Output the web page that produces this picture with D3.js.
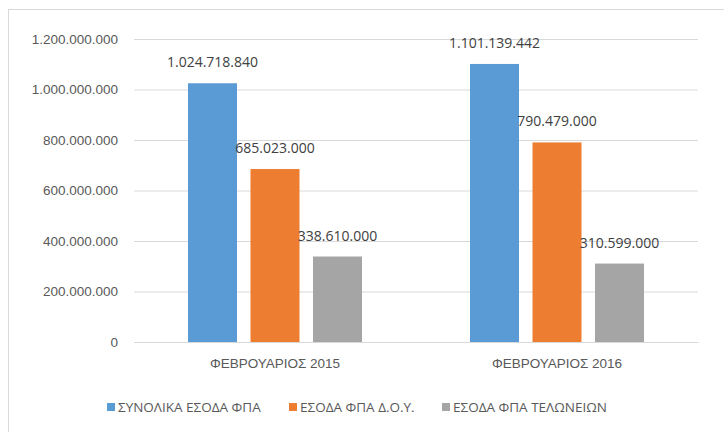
<!DOCTYPE html>
<html>
<head>
<meta charset="utf-8">
<script src="https://cdn.jsdelivr.net/npm/d3@7"></script>
<style>
  body { margin: 0; background: #fff; }
  svg { display: block; font-family: "Open Sans", "Liberation Sans", sans-serif; }
</style>
</head>
<body>
<div id="chart"></div>
<script>
const categories = ["ΦΕΒΡΟΥΑΡΙΟΣ 2015", "ΦΕΒΡΟΥΑΡΙΟΣ 2016"];
const seriesNames = ["ΣΥΝΟΛΙΚΑ ΕΣΟΔΑ ΦΠΑ", "ΕΣΟΔΑ ΦΠΑ Δ.Ο.Υ.", "ΕΣΟΔΑ ΦΠΑ ΤΕΛΩΝΕΙΩΝ"];
const seriesColors = ["#5b9bd5", "#ed7d31", "#a5a5a5"];
const totalVat = [1024718840, 1101139442];
const doyVat = [685023000, 790479000];
const customsVat = [338610000, 310599000];
const yTicks = [0, 200000000, 400000000, 600000000, 800000000, 1000000000, 1200000000];

const width = 724, height = 432;
const plot = { left: 134, right: 698, top: 39, bottom: 342 };

// greek number format: 1.024.718.840
const fmt = d3.formatLocale({ decimal: ",", thousands: ".", grouping: [3], currency: ["", "€"] }).format(",d");

const series = [totalVat, doyVat, customsVat];
const rows = [];
categories.forEach((c, i) => {
    series.forEach((s, j) => rows.push({ cat: c, name: seriesNames[j], color: seriesColors[j], value: s[i] }));
});

const svg = d3.select("#chart").append("svg")
    .attr("width", width)
    .attr("height", height);

// chart outline
svg.append("rect")
    .attr("x", 8.5).attr("y", 9.5)
    .attr("width", 740).attr("height", 440)
    .attr("fill", "none")
    .attr("stroke", "#d9d9d9");

const x0 = d3.scaleBand()
    .domain(categories)
    .range([plot.left, plot.right])
    .paddingInner(0.383)
    .paddingOuter(0.1915);

const x1 = d3.scaleBand()
    .domain(seriesNames)
    .range([0, x0.bandwidth()])
    .paddingInner(0.216);

const y = d3.scaleLinear()
    .domain([0, 1200000000])
    .range([plot.bottom, plot.top]);

// gridlines + y labels
const yAxis = d3.axisLeft(y)
    .tickValues(yTicks)
    .tickFormat(fmt)
    .tickSize(-(plot.right - plot.left))
    .tickPadding(16);

const gy = svg.append("g")
    .attr("transform", `translate(${plot.left},0)`)
    .call(yAxis);
gy.select(".domain").remove();
gy.selectAll(".tick line").attr("stroke", "#d9d9d9");
gy.selectAll(".tick text")
    .attr("fill", "#595959")
    .style("font-size", "13.5px");

// bars
svg.append("g").selectAll("rect")
    .data(rows)
    .enter()
    .append("rect")
    .attr("x", d => x0(d.cat) + x1(d.name))
    .attr("width", x1.bandwidth())
    .attr("y", d => y(d.value))
    .attr("height", d => y(0) - y(d.value))
    .attr("fill", d => d.color);

// value labels
svg.append("g").selectAll("text")
    .data(rows)
    .enter()
    .append("text")
    .attr("x", d => x0(d.cat) + x1(d.name) + x1.bandwidth() / 2)
    .attr("y", d => y(d.value) - 16)
    .attr("text-anchor", "middle")
    .attr("fill", "#404040")
    .style("font-size", "14px")
    .text(d => fmt(d.value));

// x axis
const gx = svg.append("g")
    .attr("transform", `translate(0,${y(0)})`)
    .call(d3.axisBottom(x0).tickSize(0).tickPadding(16));
gx.select(".domain").attr("stroke", "#d9d9d9");
gx.selectAll(".tick text")
    .attr("fill", "#595959")
    .style("font-size", "13.5px");

// legend
const legendX = [107, 289, 442];
const legend = svg.append("g").selectAll("g")
    .data(seriesNames)
    .enter()
    .append("g")
    .attr("transform", (d, i) => `translate(${legendX[i]},407)`);
legend.append("rect")
    .attr("x", 0).attr("y", -4)
    .attr("width", 8).attr("height", 8)
    .attr("fill", (d, i) => seriesColors[i]);
legend.append("text")
    .attr("x", 11)
    .attr("dy", "0.35em")
    .attr("fill", "#595959")
    .style("font-size", "13.5px")
    .text(d => d);
</script>
</body>
</html>
